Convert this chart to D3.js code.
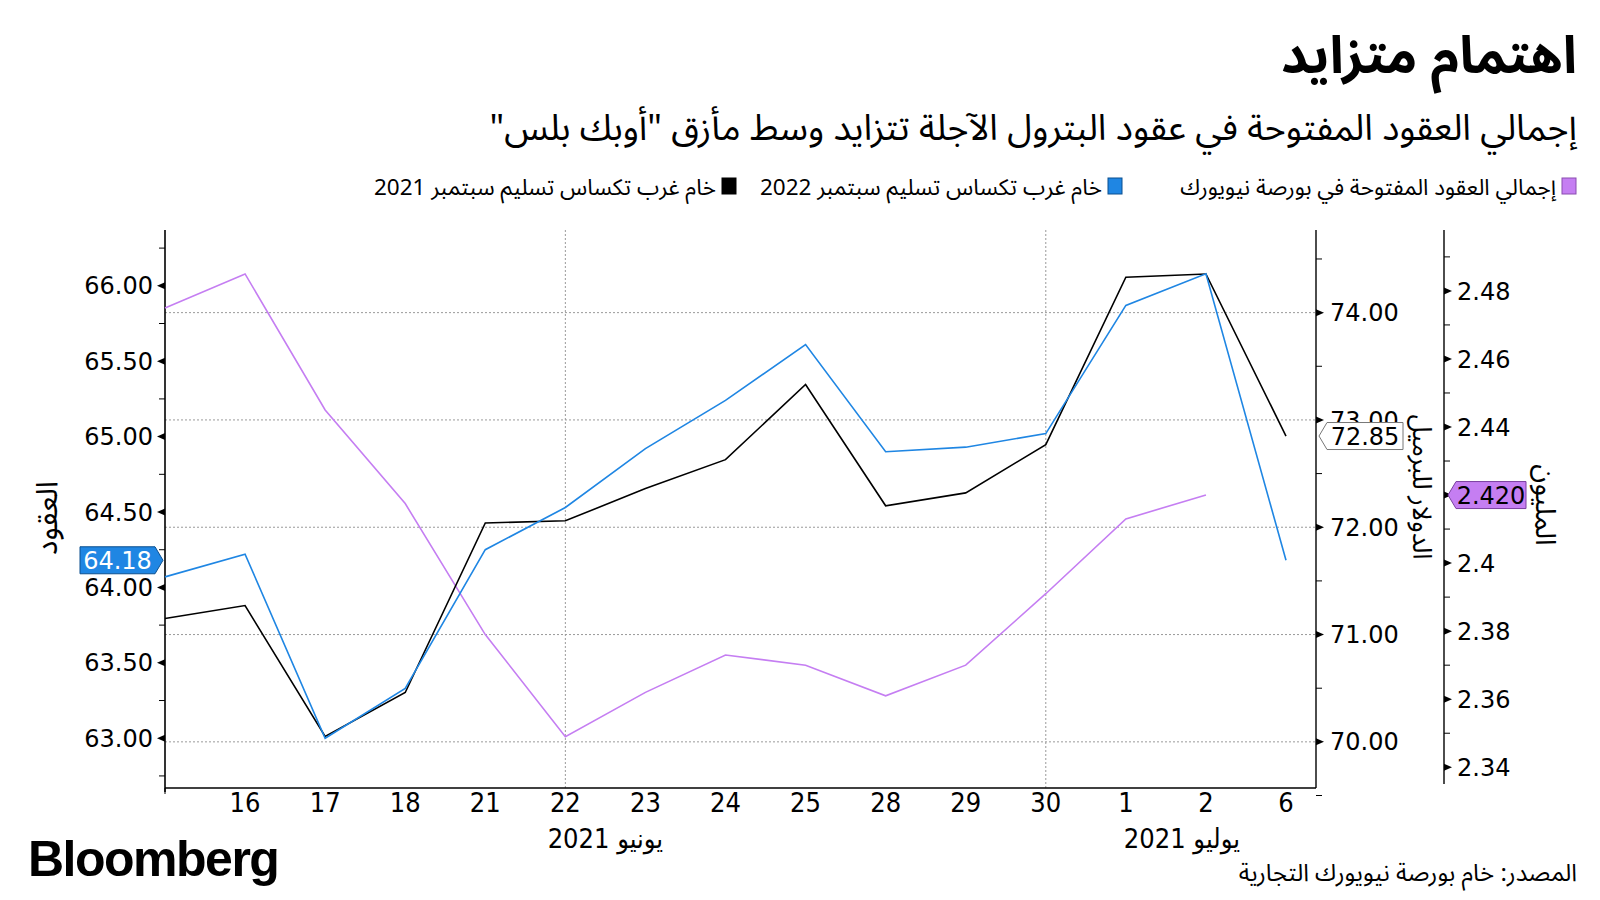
<!DOCTYPE html>
<html><head><meta charset="utf-8">
<script src="https://cdn.jsdelivr.net/npm/d3@7"></script>
<style>
body{margin:0;background:#fff;}
svg text{font-family:"DejaVu Sans",sans-serif;fill:#000;}
.ar{font-family:"Noto Sans Arabic","DejaVu Sans",sans-serif;}
.narrow{font-family:"Liberation Sans Narrow","DejaVu Sans Condensed","DejaVu Sans",sans-serif;}
</style></head><body>
<svg id="c" width="1600" height="900"></svg>
<script>
// ---------- data ----------
const dates = ["15","16","17","18","21","22","23","24","25","28","29","30","1","2","6"];
const wti2022 = [64.07,64.22,63.00,63.33,64.25,64.53,64.92,65.24,65.61,64.90,64.93,65.02,65.87,66.08,64.18];
const wti2021 = [71.15,71.27,70.05,70.46,72.04,72.06,72.36,72.63,73.33,72.20,72.32,72.77,74.33,74.36,72.85];
const openInterest = [2.475,2.485,2.445,2.4175,2.379,2.349,2.362,2.373,2.370,2.361,2.370,2.391,2.413,2.420,null];
const leftTicks = [63.00,63.50,64.00,64.50,65.00,65.50,66.00];
const midTicks = [70.00,71.00,72.00,73.00,74.00];
const rightTicks = [2.34,2.36,2.38,2.40,2.42,2.44,2.46,2.48];
const rightTickLabels = ["2.34","2.36","2.38","2.4","","2.44","2.46","2.48"]; // 2.42 is hidden under the value tag
const vGridDates = ["22","30"];
const months = [{label:"يونيو 2021", pos:5.5},{label:"يوليو 2021", pos:12.7}];
const seriesNames = ["إجمالي العقود المفتوحة في بورصة نيويورك","خام غرب تكساس تسليم سبتمبر 2022","خام غرب تكساس تسليم سبتمبر 2021"];
const title = "اهتمام متزايد";
const subtitle = "إجمالي العقود المفتوحة في عقود البترول الآجلة تتزايد وسط مأزق \"أوبك بلس\"";
const source = "المصدر: خام بورصة نيويورك التجارية";
const axisTitles = ["العقود","الدولار للبرميل","المليون"];

// ---------- layout ----------
const COL = {blue:"#1f86e3", black:"#000", purple:"#c57ef2", grid:"#9a9a9a"};
const yTop = 230, yBot = 788, xL = 165, xM = 1316, xR = 1444;
const svg = d3.select("#c");

const x = d3.scaleLinear().domain([0, dates.length-1]).range([165, 1286]);
const yL = d3.scaleLinear().domain([62.67, 66.37]).range([yBot, yTop]);
const yM = d3.scaleLinear().domain([69.57, 74.77]).range([yBot, yTop]);
const yR = d3.scaleLinear().domain([2.3339, 2.4979]).range([yBot, yTop]);

// titles
svg.append("text").attr("class","ar").attr("x",1577).attr("y",73).attr("direction","rtl")
  .attr("text-anchor","start").style("font-size","52px").style("font-weight","bold").text(title);
svg.append("text").attr("class","ar").attr("x",1577).attr("y",140).attr("direction","rtl")
  .attr("text-anchor","start").style("font-size","36px").text(subtitle);

// legend
const legendX = [1577, 1123, 737];
const legendCol = [COL.purple, COL.blue, COL.black];
const legendStroke = ["#8a4cb0","#0b4f8f","#000"];
seriesNames.forEach((n,i)=>{
  svg.append("rect").attr("x",legendX[i]-15).attr("y",178).attr("width",14).attr("height",16)
    .attr("fill",legendCol[i]).attr("stroke",legendStroke[i]).attr("stroke-width",1);
  svg.append("text").attr("class","ar").attr("x",legendX[i]-21).attr("y",195).attr("direction","rtl")
    .attr("text-anchor","start").style("font-size","22.5px").text(n);
});

// gridlines
const g = svg.append("g");
g.selectAll(".hg").data(midTicks).join("line")
  .attr("x1",xL).attr("x2",xM).attr("y1",d=>yM(d)).attr("y2",d=>yM(d))
  .attr("stroke",COL.grid).attr("stroke-width",1).attr("stroke-dasharray","2,2");
g.selectAll(".vg").data(vGridDates).join("line")
  .attr("x1",d=>x(dates.indexOf(d))).attr("x2",d=>x(dates.indexOf(d)))
  .attr("y1",yTop).attr("y2",yBot)
  .attr("stroke",COL.grid).attr("stroke-width",1).attr("stroke-dasharray","2,2");

// axis lines
svg.append("line").attr("x1",xL).attr("x2",xL).attr("y1",yTop).attr("y2",yBot+4).attr("stroke","#000").attr("stroke-width",1.6);
svg.append("line").attr("x1",xL).attr("x2",xM).attr("y1",yBot).attr("y2",yBot).attr("stroke","#000").attr("stroke-width",1.6);
svg.append("line").attr("x1",xM).attr("x2",xM).attr("y1",yTop).attr("y2",yBot).attr("stroke","#000").attr("stroke-width",1.4);
svg.append("line").attr("x1",xR).attr("x2",xR).attr("y1",yTop).attr("y2",yBot-4).attr("stroke","#000").attr("stroke-width",1.4);

// minor ticks
function minor(scale, vals, x0, dir){
  svg.append("g").selectAll("line").data(vals).join("line")
    .attr("x1",x0).attr("x2",x0+dir*6).attr("y1",d=>scale(d)).attr("y2",d=>scale(d))
    .attr("stroke","#000").attr("stroke-width",1);
}
minor(yL, d3.range(62.75, 66.3, 0.5), xL, -1);
minor(yM, d3.range(69.5, 74.6, 1), xM, 1);
minor(yR, d3.range(2.35, 2.495, 0.02), xR, 1);

// major ticks (triangles) + labels
function major(scale, vals, labels, x0, dir, lx){
  const gg = svg.append("g");
  gg.selectAll("path").data(vals).join("path")
    .attr("d",d=>`M${x0},${scale(d)-3.5}L${x0+dir*8},${scale(d)}L${x0},${scale(d)+3.5}Z`).attr("fill","#000");
  gg.selectAll("text").data(vals).join("text")
    .attr("x",lx).attr("y",d=>scale(d)).attr("dy","0.36em")
    .attr("text-anchor",dir<0?"end":"start").style("font-size","24px")
    .text((d,i)=>labels[i]);
}
major(yL, leftTicks, leftTicks.map(d=>d.toFixed(2)), xL, -1, 153);
major(yM, midTicks, midTicks.map(d=>d.toFixed(2)), xM, 1, 1330);
major(yR, rightTicks, rightTickLabels, xR, 1, 1457);

// x labels
svg.append("g").selectAll("text").data(dates).join("text").attr("class","narrow")
  .attr("x",(d,i)=>x(i)).attr("y",812).attr("text-anchor","middle").style("font-size","27px")
  .text((d,i)=>i===0?"":d);
svg.append("line").attr("x1",xL).attr("x2",xL).attr("y1",yBot).attr("y2",yBot+6).attr("stroke","#000");
months.forEach(m=>{
  svg.append("text").attr("class","narrow").attr("x",x(m.pos)).attr("y",848).attr("direction","rtl")
    .attr("text-anchor","middle").style("font-size","27px").text(m.label);
});

// axis titles
svg.append("text").attr("class","ar").attr("transform","translate(46,518) rotate(-90)")
  .attr("text-anchor","middle").attr("dy","0.35em").style("font-size","30px").text(axisTitles[0]);
svg.append("text").attr("class","ar").attr("transform","translate(1422,487) rotate(90)")
  .attr("text-anchor","middle").attr("dy","0.35em").style("font-size","26px").text(axisTitles[1]);
svg.append("text").attr("class","ar").attr("transform","translate(1546,505) rotate(90)")
  .attr("text-anchor","middle").attr("dy","0.35em").style("font-size","28px").text(axisTitles[2]);

// lines
const mk = (sc)=>d3.line().defined(d=>d!=null).x((d,i)=>x(i)).y(d=>sc(d));
svg.append("path").datum(openInterest).attr("d",mk(yR)).attr("fill","none").attr("stroke",COL.purple).attr("stroke-width",1.6);
svg.append("path").datum(wti2021).attr("d",mk(yM)).attr("fill","none").attr("stroke",COL.black).attr("stroke-width",1.6);
svg.append("path").datum(wti2022).attr("d",mk(yL)).attr("fill","none").attr("stroke",COL.blue).attr("stroke-width",1.6);

// value tags
function tag(cx, cy, w, dir, fill, stroke, txtCol, txt){
  const h = 27, a = 8;
  let p;
  if(dir>0){
    p = `M${cx},${cy}L${cx-a},${cy-h/2}L${cx-a-w},${cy-h/2}L${cx-a-w},${cy+h/2}L${cx-a},${cy+h/2}Z`;
  } else {
    p = `M${cx},${cy}L${cx+a},${cy-h/2}L${cx+a+w},${cy-h/2}L${cx+a+w},${cy+h/2}L${cx+a},${cy+h/2}Z`;
  }
  svg.append("path").attr("d",p).attr("fill",fill).attr("stroke",stroke).attr("stroke-width",1);
  svg.append("text").attr("x",dir>0?cx-a-w/2:cx+a+w/2).attr("y",cy).attr("dy","0.36em")
    .attr("text-anchor","middle").style("font-size","24px").style("fill",txtCol).text(txt);
}
const lastBlue = wti2022[wti2022.length-1];
const lastBlack = wti2021[wti2021.length-1];
const lastPurple = openInterest.filter(d=>d!=null).slice(-1)[0];
tag(163, yL(lastBlue), 75, 1, COL.blue, "#0b4f8f", "#fff", lastBlue.toFixed(2));
tag(1319, yM(lastBlack), 76, -1, "#fff", "#777", "#000", lastBlack.toFixed(2));
tag(1448, yR(lastPurple), 70, -1, COL.purple, "#7a3fa0", "#000", lastPurple.toFixed(3));

// footer
svg.append("text").attr("x",28).attr("y",876).style("font-family","'Liberation Sans',Arial,sans-serif")
  .style("font-weight","bold").style("font-size","50px").style("letter-spacing","-1.5px").text("Bloomberg");
svg.append("text").attr("class","ar").attr("x",1577).attr("y",881).attr("direction","rtl")
  .attr("text-anchor","start").style("font-size","24px").text(source);
</script>
</body></html>
